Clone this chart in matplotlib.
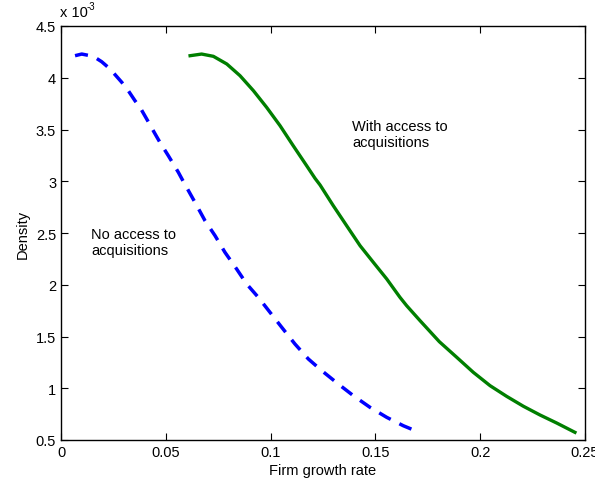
import numpy as np
import matplotlib.pyplot as plt

plt.rcParams['font.family'] = ['Liberation Sans', 'DejaVu Sans']

# curve points (x = firm growth rate, y = density x 1e-3)
no_acc_x = [0.0067, 0.0099, 0.0154, 0.0194, 0.0234, 0.0290, 0.0321, 0.0353,
            0.0377, 0.0409, 0.0449, 0.0472, 0.0512, 0.0560, 0.0584, 0.0639,
            0.0687, 0.0735, 0.0782, 0.0838, 0.0886, 0.0941, 0.1053, 0.1116,
            0.1180, 0.1244, 0.1323, 0.1395, 0.1474, 0.1554, 0.1633, 0.1709]
no_acc_y = [4.213, 4.229, 4.207, 4.155, 4.085, 3.956, 3.875, 3.778,
            3.714, 3.601, 3.457, 3.376, 3.247, 3.086, 2.996, 2.797,
            2.619, 2.474, 2.314, 2.152, 2.007, 1.879, 1.589, 1.428,
            1.283, 1.170, 1.041, 0.928, 0.816, 0.719, 0.638, 0.574]

with_acc_x = [0.0616, 0.0671, 0.0727, 0.0791, 0.0854, 0.0918, 0.0981, 0.1045,
              0.1108, 0.1172, 0.1212, 0.1236, 0.1299, 0.1363, 0.1427, 0.1490,
              0.1554, 0.1617, 0.1649, 0.1713, 0.1805, 0.1888, 0.1967, 0.2047,
              0.2126, 0.2206, 0.2285, 0.2365, 0.2452]
with_acc_y = [4.213, 4.229, 4.207, 4.133, 4.020, 3.875, 3.714, 3.537,
              3.343, 3.150, 3.028, 2.964, 2.764, 2.570, 2.377, 2.217,
              2.056, 1.879, 1.798, 1.653, 1.450, 1.299, 1.154, 1.025,
              0.922, 0.826, 0.742, 0.664, 0.574]

xticks = [0, 0.05, 0.1, 0.15, 0.2, 0.25]
xticklabels = ['0', '0.05', '0.1', '0.15', '0.2', '0.25']
yticks = [0.5, 1, 1.5, 2, 2.5, 3, 3.5, 4, 4.5]
yticklabels = ['0.5', '1', '1.5', '2', '2.5', '3', '3.5', '4', '4.5']

fig = plt.figure(figsize=(5.95, 4.89), dpi=100)
ax = fig.add_axes([61 / 595, 1 - 441 / 489, 524 / 595, 414 / 489])

ax.plot(no_acc_x, no_acc_y, color='#0000ff', lw=2.5, ls=(0, (3.8, 2.8)))
ax.plot(with_acc_x, with_acc_y, color='#007f00', lw=2.4)

ax.text(0.0143, 2.56, "No access to\nacquisitions", fontsize=10.5, va='top', ha='left')
ax.text(0.139, 3.6, "With access to\nacquisitions", fontsize=10.5, va='top', ha='left')

ax.set_xlim(0, 0.25)
ax.set_ylim(0.5, 4.5)
ax.set_xticks(xticks)
ax.set_xticklabels(xticklabels)
ax.set_yticks(yticks)
ax.set_yticklabels(yticklabels)
ax.tick_params(direction='in', top=True, right=True, length=5, labelsize=10.5, width=0.8)
for s in ax.spines.values():
    s.set_linewidth(1.0)
ax.set_xlabel("Firm growth rate", fontsize=10.5, labelpad=3)
ax.set_ylabel("Density", fontsize=10.5, labelpad=4)

fig.text(60 / 595, 1 - 20 / 489, "x 10", fontsize=10.5, ha='left', va='bottom')
fig.text(87 / 595, 1 - 12 / 489, "-3", fontsize=7, ha='left', va='bottom')

fig.savefig("out.png", dpi=100)
